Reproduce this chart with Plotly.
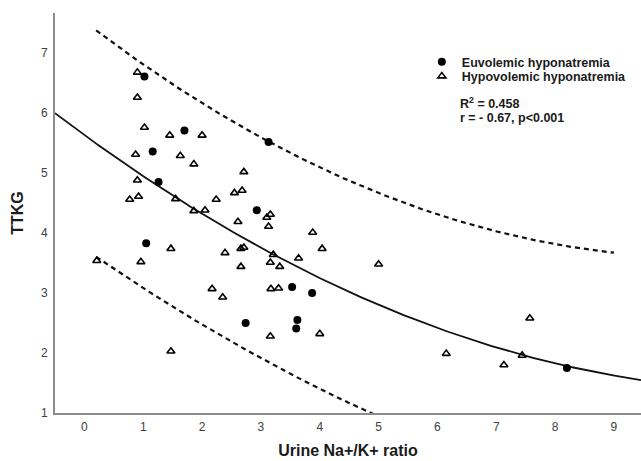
import numpy as np
import plotly.graph_objects as go

# Euvolemic hyponatremia (filled circles)
euvolemic_ratio = [1.02, 1.70, 1.16, 1.26, 3.13, 2.93, 1.05, 3.53, 3.87, 2.74, 3.62, 3.60, 8.20]
euvolemic_ttkg = [6.61, 5.71, 5.36, 4.85, 5.52, 4.38, 3.83, 3.10, 3.00, 2.50, 2.55, 2.41, 1.75]

# Hypovolemic hyponatremia (open triangles)
hypovolemic_ratio = [0.90, 0.90, 1.02, 1.45, 2.00, 0.87, 1.63, 1.86, 0.90, 0.77,
                     0.92, 1.55, 2.24, 1.86, 2.05, 2.71, 2.55, 2.68, 3.16, 3.10,
                     3.13, 2.61, 3.88, 4.04, 2.39, 2.66, 2.71, 3.21, 3.16, 3.32,
                     3.64, 2.66, 1.47, 0.21, 0.96, 2.17, 1.47, 2.35, 3.17, 3.30,
                     3.16, 4.00, 5.00, 7.57, 6.15, 7.44, 7.13]
hypovolemic_ttkg = [6.68, 6.26, 5.76, 5.63, 5.63, 5.31, 5.29, 5.15, 4.88, 4.56,
                    4.61, 4.57, 4.56, 4.37, 4.38, 5.02, 4.67, 4.71, 4.31, 4.26,
                    4.11, 4.19, 4.01, 3.74, 3.67, 3.74, 3.76, 3.64, 3.51, 3.44,
                    3.58, 3.44, 3.74, 3.54, 3.52, 3.07, 2.03, 2.93, 3.07, 3.08,
                    2.28, 2.32, 3.48, 2.58, 1.99, 1.96, 1.80]

# Quadratic fit TTKG = c0 + c1*x + c2*x^2 and its 95% prediction band
fit_coef = [5.634, -0.7165, 0.0301]
band_halfwidth = 1.84      # at the centre of the data
band_center_x = 3.0
band_scale = 12.24
band_x_range = [0.2, 9.0]

x_range = [-0.5, 9.46]
y_range = [1, 7.67]
x_ticks = [0, 1, 2, 3, 4, 5, 6, 7, 8, 9]
y_ticks = [1, 2, 3, 4, 5, 6, 7]

stats_lines = ["R<sup>2</sup> = 0.458", "r = - 0.67, p&lt;0.001"]


def fit(x):
    return fit_coef[0] + fit_coef[1] * x + fit_coef[2] * x ** 2


def halfwidth(x):
    return band_halfwidth * np.sqrt(1 + ((x - band_center_x) / band_scale) ** 2)


x_fit = np.linspace(x_range[0], x_range[1], 200)
x_band = np.linspace(band_x_range[0], band_x_range[1], 200)

fig = go.Figure()

fig.add_trace(go.Scatter(
    x=x_band, y=fit(x_band) + halfwidth(x_band), mode="lines",
    line=dict(color="#111111", width=2.2, dash="5px,4px"),
    showlegend=False, hoverinfo="skip"))
fig.add_trace(go.Scatter(
    x=x_band, y=fit(x_band) - halfwidth(x_band), mode="lines",
    line=dict(color="#111111", width=2.2, dash="5px,4px"),
    showlegend=False, hoverinfo="skip"))
fig.add_trace(go.Scatter(
    x=x_fit, y=fit(x_fit), mode="lines",
    line=dict(color="#111111", width=1.8),
    showlegend=False, hoverinfo="skip"))

fig.add_trace(go.Scatter(
    x=hypovolemic_ratio, y=hypovolemic_ttkg, mode="markers",
    name="Hypovolemic hyponatremia", legend="legend2",
    marker=dict(symbol="triangle-up-open", size=7, color="#000000",
                line=dict(width=1.6, color="#000000"))))
fig.add_trace(go.Scatter(
    x=euvolemic_ratio, y=euvolemic_ttkg, mode="markers",
    name="Euvolemic hyponatremia", legend="legend",
    marker=dict(symbol="circle", size=8, color="#000000")))

legend_font = dict(family="Arial, Liberation Sans, sans-serif", size=12.5,
                   color="#1a1a1a", weight="bold")

# Fit statistics, one annotation per line
stats_y = [0.77375, 0.7375]
for line, y in zip(stats_lines, stats_y):
    fig.add_annotation(
        x=0.6877, y=y, xref="paper", yref="paper",
        xanchor="left", yanchor="middle", showarrow=False,
        text=line, font=legend_font)

axis_font = dict(family="Arial, Liberation Sans, sans-serif", size=12, color="#404040")
title_font = dict(family="Arial, Liberation Sans, sans-serif", size=16,
                  color="#1a1a1a", weight="bold")

fig.update_layout(
    width=641, height=461,
    margin=dict(l=55, r=0, t=13, b=48),
    paper_bgcolor="white", plot_bgcolor="white",
    legend=dict(x=0.626, y=0.8775, xanchor="left", yanchor="middle",
                font=legend_font, bgcolor="rgba(0,0,0,0)", borderwidth=0),
    legend2=dict(x=0.626, y=0.84125, xanchor="left", yanchor="middle",
                 font=legend_font, bgcolor="rgba(0,0,0,0)", borderwidth=0),
    xaxis=dict(range=x_range, tickvals=x_ticks, showgrid=False, zeroline=False,
               showline=True, linecolor="#8c8c8c", linewidth=1.6,
               ticks="", ticklabelstandoff=2, tickfont=axis_font,
               title=dict(text="Urine Na+/K+ ratio", font=title_font, standoff=12)),
    yaxis=dict(range=y_range, tickvals=y_ticks, showgrid=False, zeroline=False,
               showline=True, linecolor="#8c8c8c", linewidth=1.6,
               ticks="", ticklabelstandoff=3, tickfont=axis_font,
               title=dict(text="TTKG", font=title_font, standoff=14)),
)

fig.write_html("out.html")
